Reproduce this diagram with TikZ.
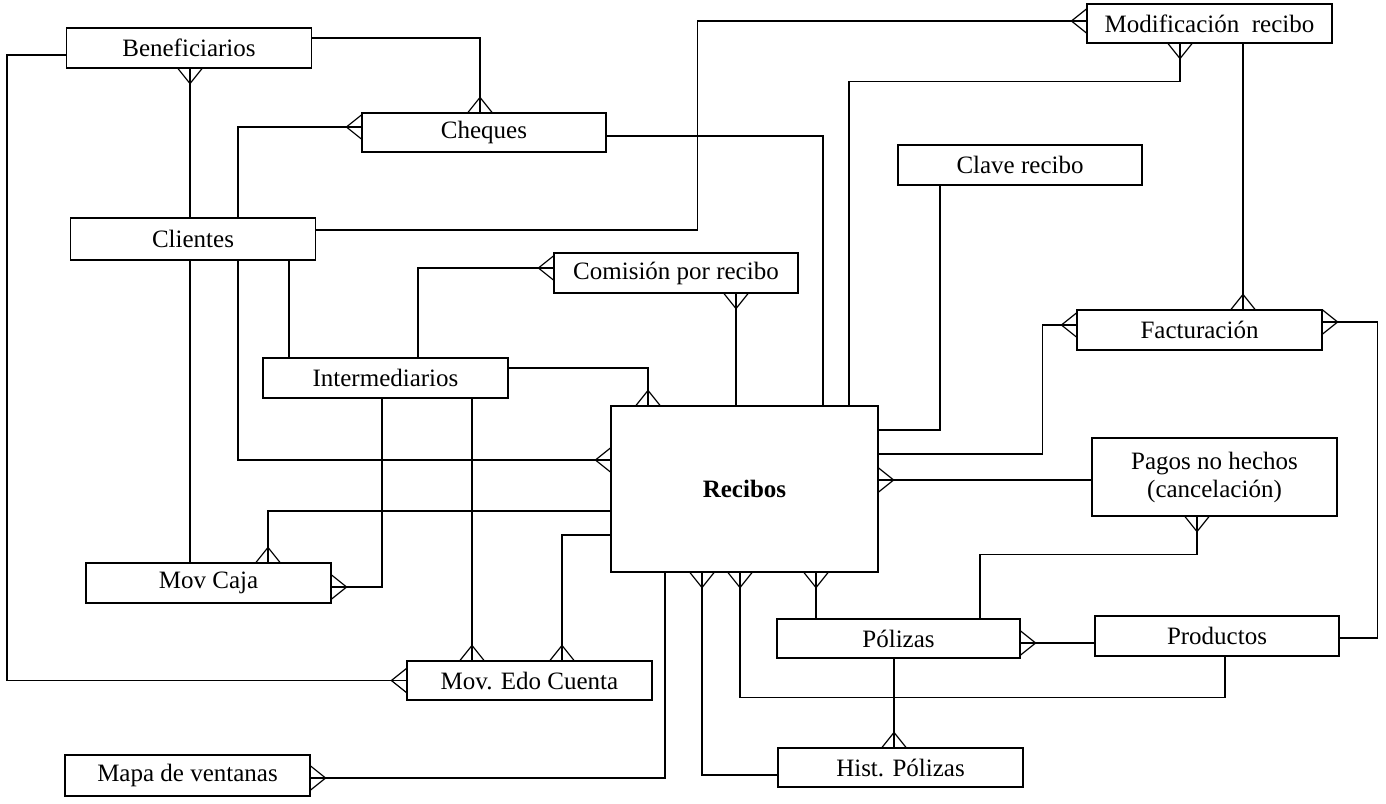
\documentclass[tikz,border=0pt]{standalone}
\usepackage{fontspec}
\setmainfont{Liberation Serif}
\usetikzlibrary{arrows.meta}

% Crow's foot ("many" end of a relationship): three prongs meeting the entity box
\pgfdeclarearrow{
  name = Crow,
  parameters = {\the\pgfarrowlength,\the\pgfarrowwidth},
  setup code = {
    \pgfarrowssettipend{0pt}
    \pgfarrowssetlineend{0pt}
    \pgfarrowssetbackend{-\pgfarrowlength}
    \pgfarrowssavethe\pgfarrowlength
    \pgfarrowssavethe\pgfarrowwidth
  },
  drawing code = {
    \pgfpathmoveto{\pgfqpoint{-\pgfarrowlength}{0pt}}
    \pgfpathlineto{\pgfqpoint{0pt}{.5\pgfarrowwidth}}
    \pgfpathmoveto{\pgfqpoint{-\pgfarrowlength}{0pt}}
    \pgfpathlineto{\pgfqpoint{0pt}{-.5\pgfarrowwidth}}
    \pgfusepathqstroke
  },
  defaults = {length=15pt, width=24pt}
}

\tikzset{
  entity/.style={draw, line width=1.2pt, minimum width=245pt, minimum height=40pt,
    inner sep=0pt, align=center, font=\fontsize{25}{28}\selectfont},
  rel/.style={draw, line width=1.2pt}
}

\begin{document}
\begin{tikzpicture}[x=1pt, y=-1pt, every path/.style={line width=1.2pt}]
\useasboundingbox (0,0) rectangle (1386,803);

% entities
\node[entity] (ben) at (189,48) {Beneficiarios};
\node[entity, minimum height=42pt] (cli) at (193,239) {Clientes};
\node[entity, minimum width=244pt, minimum height=39pt] (che) at (484,132.5) {Cheques};
\node[entity, minimum width=244pt] (com) at (676,273) {Comisión por recibo};
\node[entity] (int) at (385.5,378) {Intermediarios};
\node[entity, minimum width=267pt, minimum height=166pt, font=\fontsize{25}{28}\selectfont\bfseries] (rec) at (744.5,489) {Recibos};
\node[entity, minimum height=39pt] (mod) at (1209.5,23.5) {Modificación\ \ recibo};
\node[entity, minimum width=244pt] (cla) at (1020,165) {Clave recibo};
\node[entity] (fac) at (1199.5,330) {Facturación};
\node[entity, minimum height=78pt] (pag) at (1214.5,477) {Pagos no hechos\\(cancelación)};
\node[entity] (caj) at (208.5,583) {Mov Caja};
\node[entity, minimum height=39pt] (edo) at (529.5,680.5) {Mov. Edo Cuenta};
\node[entity, minimum height=41pt] (map) at (187.5,775.5) {Mapa de ventanas};
\node[entity, minimum width=243pt, minimum height=39pt] (pol) at (898.5,638.5) {Pólizas};
\node[entity, minimum width=244pt] (pro) at (1217,636) {Productos};
\node[entity, minimum height=39pt] (his) at (900.5,767.5) {Hist. Pólizas};

% relationships around Beneficiarios and Clientes
\draw[rel, -Crow] ([yshift=10pt]ben.east) -| ([xshift=-4pt]che.north);
\draw[rel, -Crow] ([xshift=-3pt]cli.north) -- ([xshift=1pt]ben.south);
\draw[rel, -Crow] ([yshift=-7pt]ben.west) -- ++(-59,0) |- (edo.west);
\draw[rel, -Crow] ([xshift=45pt]cli.north) |- ([yshift=5.5pt]che.west);
\draw[rel, -Crow] ([yshift=9pt]cli.east) -- ++(381,0) |- ([yshift=2.5pt]mod.west);
\draw[rel] ([xshift=-3pt]cli.south) -- ([xshift=-18.5pt]caj.north);
\draw[rel, -Crow] ([xshift=45pt]cli.south) |- ([yshift=29pt]rec.west);
\draw[rel] ([xshift=96pt]cli.south) -- ([xshift=-96.5pt]int.north);

% relationships of Intermediarios
\draw[rel, -Crow] ([xshift=32.5pt]int.north) |- ([yshift=5pt]com.west);
\draw[rel, -Crow] ([yshift=10pt]int.east) -| ([xshift=-96.5pt]rec.north);
\draw[rel, -Crow] ([xshift=-3.5pt]int.south) |- ([yshift=-4pt]caj.east);
\draw[rel, -Crow] ([xshift=86.5pt]int.south) -- ([xshift=-57.5pt]edo.north);

% relationships of Recibos, left and bottom
\draw[rel, -Crow] ([yshift=-22pt]rec.west) -| ([xshift=59.5pt]caj.north);
\draw[rel, -Crow] ([yshift=-46pt]rec.west) -| ([xshift=32.5pt]edo.north);
\draw[rel, -Crow] ([xshift=-79.5pt]rec.south) |- ([yshift=-2.5pt]map.east);
\draw[rel, -Crow] ([yshift=-7.5pt]his.west) -| ([xshift=-42.5pt]rec.south);
\draw[rel, -Crow] ([xshift=8pt]pro.south) -- ++(0,41) -| ([xshift=-4.5pt]rec.south);
\draw[rel, -Crow] ([xshift=-82.5pt]pol.north) -- ([xshift=71.5pt]rec.south);

% Pólizas, Productos, Hist. Pólizas, Pagos no hechos
\draw[rel, -Crow] ([xshift=-4.5pt]pol.south) -- ([xshift=-6.5pt]his.north);
\draw[rel, -Crow] ([yshift=-7pt]pro.west) -- ([yshift=-4.5pt]pol.east);
\draw[rel, -Crow] ([xshift=81.5pt]pol.north) -- ++(0,-64) -| ([xshift=-17.5pt]pag.south);
\draw[rel, -Crow] ([yshift=-2pt]pro.east) -- ++(38,0) |- ([yshift=8pt]fac.east);

% relationships of Recibos, right and top
\draw[rel, -Crow] ([yshift=35pt]rec.east) -- ++(164,0) |- ([yshift=5pt]fac.west);
\draw[rel, -Crow] ([xshift=33.5pt]mod.south) -- ([xshift=43.5pt]fac.north);
\draw[rel, -Crow] ([yshift=-3pt]pag.west) -- ([yshift=9pt]rec.east);
\draw[rel] ([xshift=-80pt]cla.south) |- ([yshift=59pt]rec.east);
\draw[rel, -Crow] ([xshift=104.5pt]rec.north) -- ++(0,-324) -| ([xshift=-29.5pt]mod.south);
\draw[rel] ([yshift=-3.5pt]che.east) -| ([xshift=78.5pt]rec.north);
\draw[rel, -Crow] ([xshift=-8.5pt]rec.north) -- ([xshift=60pt]com.south);
\end{tikzpicture}
\end{document}
